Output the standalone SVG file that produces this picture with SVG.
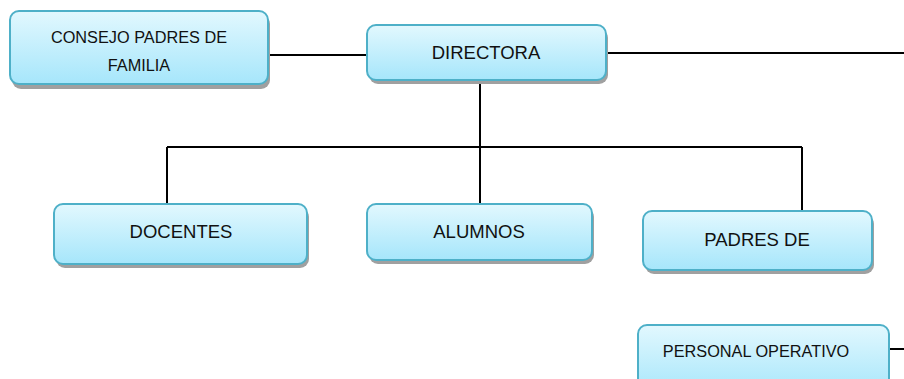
<svg xmlns="http://www.w3.org/2000/svg" width="904" height="379" viewBox="0 0 904 379">
<defs>
<linearGradient id="g" x1="0" y1="0" x2="0" y2="1">
<stop offset="0" stop-color="#e2f8fe"/>
<stop offset="1" stop-color="#a6e6fb"/>
</linearGradient>
<style>
.box{fill:url(#g);stroke:#4eb0c8;stroke-width:2}
.sh{fill:#a0a0a0}
.t{font-family:"Liberation Sans",Arial,sans-serif;font-size:18.5px;fill:#111;text-anchor:middle;dominant-baseline:central}
.s{font-size:16.3px}
.c{stroke:#000;stroke-width:2;fill:none}
</style>
</defs>
<g id="connectors">
<path class="c" d="M268 55H367"/>
<path class="c" d="M606 53H904"/>
<path class="c" d="M480 80V147"/>
<path class="c" d="M167 147H802"/>
<path class="c" d="M167 147V204"/>
<path class="c" d="M480 147V204"/>
<path class="c" d="M802 147V211"/>
<path class="c" d="M889 349H904"/>
</g>
<g id="consejo">
<rect class="sh" x="12" y="15" width="258" height="74" rx="9"/>
<rect class="box" x="10" y="11" width="258" height="73" rx="9"/>
<text class="t s" x="139" y="37">CONSEJO PADRES DE</text>
<text class="t s" x="139" y="65">FAMILIA</text>
</g>
<g id="directora">
<rect class="sh" x="369" y="29" width="239" height="55" rx="9"/>
<rect class="box" x="367" y="25" width="239" height="55" rx="9"/>
<text class="t" x="486" y="52">DIRECTORA</text>
</g>
<g id="docentes">
<rect class="sh" x="56" y="208" width="253" height="60" rx="9"/>
<rect class="box" x="54" y="204" width="253" height="60" rx="9"/>
<text class="t" x="181" y="231">DOCENTES</text>
</g>
<g id="alumnos">
<rect class="sh" x="369" y="208" width="225" height="56" rx="9"/>
<rect class="box" x="367" y="204" width="225" height="56" rx="9"/>
<text class="t" x="479" y="231">ALUMNOS</text>
</g>
<g id="padres">
<rect class="sh" x="645" y="215" width="229" height="59" rx="9"/>
<rect class="box" x="643" y="211" width="229" height="59" rx="9"/>
<text class="t" x="757" y="239">PADRES DE</text>
</g>
<g id="personal">
<rect class="box" x="638" y="325" width="251" height="70" rx="9"/>
<text class="t s" x="756" y="351">PERSONAL OPERATIVO</text>
</g>
</svg>
